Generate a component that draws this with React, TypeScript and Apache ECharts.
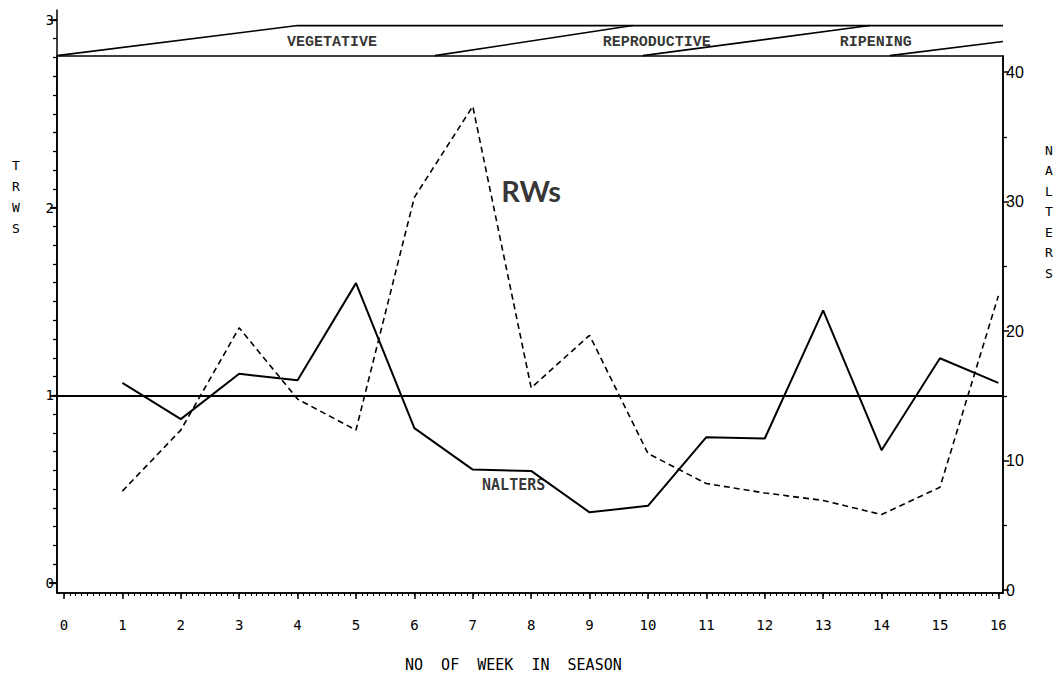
import React, { useEffect, useRef } from "react";
import * as echarts from "echarts";

// ---- data ----
const weeks = [1, 2, 3, 4, 5, 6, 7, 8, 9, 10, 11, 12, 13, 14, 15, 16];
const rwsValues = [0.49, 0.815, 1.36, 0.98, 0.815, 2.055, 2.54, 1.04, 1.32, 0.69, 0.53, 0.48, 0.44, 0.365, 0.51, 1.53];
const nalterValues = [16.0, 13.2, 16.7, 16.2, 23.7, 12.5, 9.3, 9.2, 6.0, 6.5, 11.8, 11.7, 21.6, 10.8, 17.9, 16.0];
const xTickLabels = [0, 1, 2, 3, 4, 5, 6, 7, 8, 9, 10, 11, 12, 13, 14, 15, 16];
const leftTickLabels = [0, 1, 2, 3];
const rightTickLabels = [0, 10, 20, 30, 40];
const rightMinorTicks = [5, 15, 25, 35];
const rwsReference = 1;

// phase band (week, left-axis value)
const phaseNames = ["VEGETATIVE", "REPRODUCTIVE", "RIPENING"];
const phaseLabelWeeks = [4.59, 10.15, 13.9];
const phaseLabelLevel = 2.882;
const phaseLineTop = [[-0.12, 2.81], [4.0, 2.97], [16.08, 2.97]];
const phaseLine2 = [[6.35, 2.81], [9.74, 2.97]];
const phaseLine3 = [[9.91, 2.81], [13.8, 2.97]];
const phaseLine4 = [[14.14, 2.81], [16.08, 2.885]];

// annotation positions (week, left-axis value)
const rwsLabelAt = [8.0, 2.09];
const nalterLabelAt = [7.7, 0.52];

const X_MIN = -0.12;
const X_MAX = 16.08;

function steps(from: number, to: number, step: number) {
  const out: number[] = [];
  const n = Math.round((to - from) / step);
  for (let i = 0; i <= n; i++) out.push(Math.round((from + i * step) * 1000) / 1000);
  return out;
}

const MONO = "DejaVu Sans Mono";

export default function App() {
  const ref = useRef<HTMLDivElement>(null);
  useEffect(() => {
    if (!ref.current) return;
    const chart = echarts.init(ref.current, undefined, { renderer: "svg" });
    const lineBlack = { color: "#000", width: 1.5 };
    const phaseLineSeries = (data: number[][]) => ({
      type: "line",
      xAxisIndex: 0,
      yAxisIndex: 0,
      data,
      symbol: "none",
      silent: true,
      lineStyle: { color: "#000", width: 1.6 },
      clip: false,
    });
    const option: any = {
      animation: false,
      backgroundColor: "#fff",
      grid: [
        { left: 57, right: 60, top: 10, bottom: 86, show: false },
        { left: 57, right: 60, top: 56, bottom: 86, show: true, borderColor: "#000", borderWidth: 1.6, backgroundColor: "transparent" },
      ],
      xAxis: [
        {
          type: "value", gridIndex: 0, min: X_MIN, max: X_MAX,
          axisLine: { show: true, onZero: false, lineStyle: lineBlack },
          axisTick: { show: true, length: 6, lineStyle: lineBlack, customValues: xTickLabels },
          axisLabel: { show: true, customValues: xTickLabels, color: "#000", fontFamily: MONO, fontSize: 14, margin: 25 },
          splitLine: { show: false },
        },
        {
          type: "value", gridIndex: 0, min: X_MIN, max: X_MAX, position: "bottom",
          axisLine: { show: false, onZero: false },
          axisTick: { show: true, length: 3, lineStyle: { color: "#000", width: 1 }, customValues: steps(0, 16, 0.1) },
          axisLabel: { show: false },
          splitLine: { show: false },
        },
        {
          type: "value", gridIndex: 1, min: X_MIN, max: X_MAX, show: false,
          axisLine: { onZero: false },
        },
      ],
      yAxis: [
        {
          type: "value", gridIndex: 0, min: -0.053, max: 3.053, position: "left",
          axisLine: { show: true, onZero: false, lineStyle: lineBlack },
          axisTick: { show: true, length: 7, lineStyle: { color: "#000", width: 1.8 }, customValues: leftTickLabels },
          axisLabel: { show: true, customValues: leftTickLabels, color: "#000", fontFamily: MONO, fontSize: 14, margin: 3 },
          splitLine: { show: false },
        },
        {
          type: "value", gridIndex: 0, min: -0.053, max: 3.053, position: "left",
          axisLine: { show: false, onZero: false },
          axisTick: { show: true, length: 4, lineStyle: { color: "#000", width: 1.3 }, customValues: steps(0, 3, 0.1) },
          axisLabel: { show: false },
          splitLine: { show: false },
        },
        {
          type: "value", gridIndex: 1, min: -0.23, max: 41.24, position: "right",
          axisLine: { show: true, onZero: false, lineStyle: lineBlack },
          axisTick: { show: true, length: 6, lineStyle: lineBlack, customValues: rightTickLabels },
          axisLabel: { show: true, customValues: rightTickLabels, color: "#000", fontFamily: "Liberation Sans", fontSize: 16, margin: 3 },
          splitLine: { show: false },
        },
        {
          type: "value", gridIndex: 1, min: -0.23, max: 41.24, position: "right",
          axisLine: { show: false, onZero: false },
          axisTick: { show: true, length: 4, lineStyle: { color: "#000", width: 1.3 }, customValues: rightMinorTicks },
          axisLabel: { show: false },
          splitLine: { show: false },
        },
      ],
      series: [
        {
          name: "RWS",
          type: "line",
          xAxisIndex: 0,
          yAxisIndex: 0,
          data: weeks.map((w, i) => [w, rwsValues[i]]),
          symbol: "none",
          lineStyle: { color: "#000", width: 1.6, type: [6, 4] },
          markLine: {
            symbol: "none",
            silent: true,
            label: { show: false },
            lineStyle: { color: "#000", width: 2, type: "solid" },
            data: [{ yAxis: rwsReference }],
          },
        },
        {
          name: "NALTERS",
          type: "line",
          xAxisIndex: 2,
          yAxisIndex: 2,
          data: weeks.map((w, i) => [w, nalterValues[i]]),
          symbol: "none",
          lineStyle: { color: "#000", width: 2 },
        },
        phaseLineSeries(phaseLineTop),
        phaseLineSeries(phaseLine2),
        phaseLineSeries(phaseLine3),
        phaseLineSeries(phaseLine4),
        {
          type: "scatter",
          xAxisIndex: 0,
          yAxisIndex: 0,
          silent: true,
          symbolSize: 1,
          itemStyle: { color: "rgba(0,0,0,0)" },
          data: phaseNames.map((n, i) => ({ value: [phaseLabelWeeks[i], phaseLabelLevel], name: n })),
          label: {
            show: true, position: "inside", formatter: (p: any) => p.name,
            color: "#000", fontFamily: "Liberation Mono", fontSize: 15, fontWeight: "bold",
          },
        },
        {
          type: "scatter",
          xAxisIndex: 0,
          yAxisIndex: 0,
          silent: true,
          symbolSize: 1,
          itemStyle: { color: "rgba(0,0,0,0)" },
          data: [
            { value: rwsLabelAt, name: "RWs", label: { fontFamily: "Lato", fontSize: 29, fontWeight: "bold", color: "#000" } },
            { value: nalterLabelAt, name: "NALTERS", label: { fontFamily: MONO, fontSize: 15, fontWeight: "bold", color: "#000" } },
          ],
          label: { show: true, position: "inside", formatter: (p: any) => p.name, color: "#000" },
        },
      ],
      graphic: [
        {
          type: "text", left: 12, top: 155,
          style: { text: "T\nR\nW\nS", fontFamily: MONO, fontSize: 13, lineHeight: 21, fill: "#000", align: "center" },
        },
        {
          type: "text", left: 1045, top: 140,
          style: { text: "N\nA\nL\nT\nE\nR\nS", fontFamily: MONO, fontSize: 13, lineHeight: 20.5, fill: "#000", align: "center" },
        },
        {
          type: "text", left: 405, top: 657,
          style: { text: "NO  OF  WEEK  IN  SEASON", fontFamily: MONO, fontSize: 15, fill: "#000" },
        },
      ],
    };
    chart.setOption(option);
    return () => chart.dispose();
  }, []);
  return (
    <div
      ref={ref}
      style={{ position: "fixed", left: 0, top: 0, width: 1063, height: 679, background: "#fff" }}
    />
  );
}
